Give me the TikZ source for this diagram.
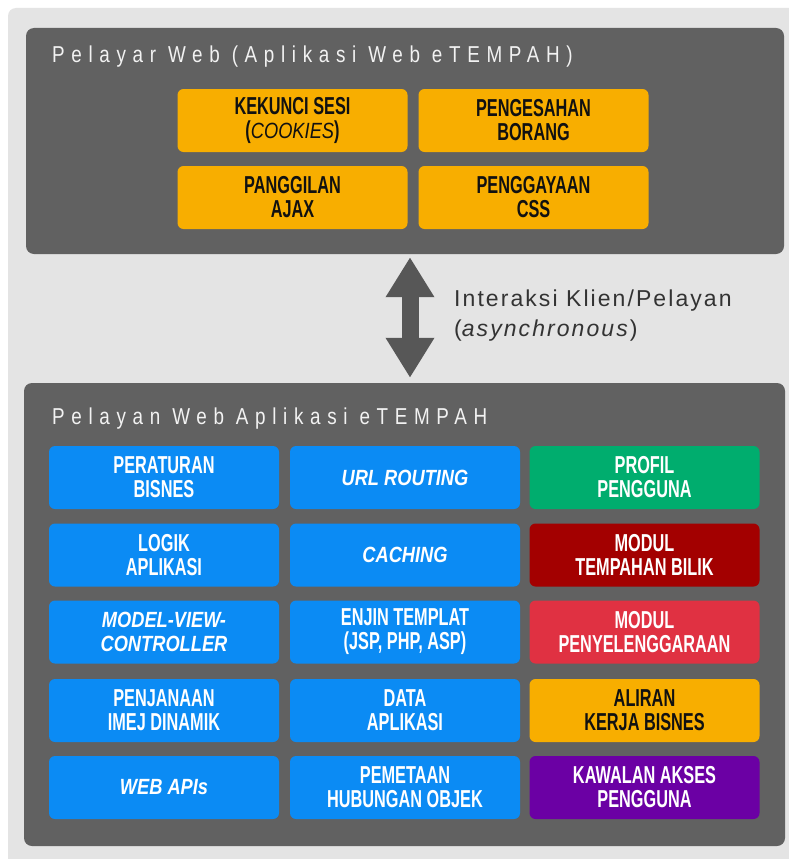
\documentclass[tikz,border=0pt]{standalone}
\usepackage{fontspec}
\setmainfont{Liberation Sans}
\newfontfamily\boxfont[FakeStretch=0.665]{Liberation Sans}
\newfontfamily\slantfont[FakeStretch=0.83]{Liberation Sans}
\newfontfamily\titlefont[FakeStretch=0.82,LetterSpace=29]{Liberation Sans}
\newfontfamily\notefont[LetterSpace=9]{Liberation Sans}
\usetikzlibrary{arrows.meta}

\definecolor{pagebg}{HTML}{E4E4E4}
\definecolor{panel}{HTML}{616161}
\definecolor{arrowgrey}{HTML}{575757}
\definecolor{notetext}{HTML}{333333}
\definecolor{titletext}{HTML}{F2F2F2}
\definecolor{blueb}{HTML}{0B8BF4}
\definecolor{greenb}{HTML}{00AD6E}
\definecolor{maroonb}{HTML}{A30000}
\definecolor{redb}{HTML}{E03142}
\definecolor{amberb}{HTML}{F8AE00}
\definecolor{purpleb}{HTML}{6B00A4}
\definecolor{darktext}{HTML}{111111}

\tikzset{
  panelbox/.style={fill=panel, rounded corners=8pt, inner sep=0pt},
  tile/.style={rounded corners=6pt, minimum width=230pt, minimum height=63pt,
    inner sep=0pt, align=center, text=white,
    font=\fontsize{24.5}{24}\boxfont\bfseries\selectfont},
  slanttile/.style={tile, font=\fontsize{22}{24}\slantfont\bfseries\itshape\selectfont},
  amber/.style={fill=amberb, text=darktext},
  paneltitle/.style={anchor=base west, inner sep=0pt, text=titletext,
    font=\fontsize{23}{23}\titlefont\selectfont},
  bigarrow/.style={draw=arrowgrey, line width=17pt,
    {Triangle[length=40pt,width=46pt]}-{Triangle[length=40pt,width=46pt]}},
}

\begin{document}
\begin{tikzpicture}[x=1pt,y=-1pt]
  \useasboundingbox (0,0) rectangle (789,859);
  \clip (0,0) rectangle (789,859);
  \fill[white] (0,0) rectangle (789,859);
  \fill[pagebg, rounded corners=8pt] (8,8) rectangle (810,880);

  % client-side panel
  \node[panelbox, minimum width=758pt, minimum height=226pt] (client) at (405,141) {};
  \node[paneltitle] (clienttitle) at (52,63) {Pelayar Web (Aplikasi Web eTEMPAH)};
  \node[tile, amber] (cookies) at (292.5,120.5) {KEKUNCI SESI\\({\fontsize{22}{22}\slantfont\mdseries\itshape COOKIES})};
  \node[tile, amber] (formval) at (533.5,120.5) {PENGESAHAN\\BORANG};
  \node[tile, amber] (ajax) at (292.5,197.5) {PANGGILAN\\AJAX};
  \node[tile, amber] (css) at (533.5,197.5) {PENGGAYAAN\\CSS};

  % server-side panel
  \node[panelbox, minimum width=761pt, minimum height=463pt] (server) at (404.5,614.5) {};
  \node[paneltitle] (servertitle) at (52,424) {Pelayan Web Aplikasi eTEMPAH};

  \node[tile, fill=blueb] (rules) at (164,477.5) {PERATURAN\\BISNES};
  \node[tile, fill=blueb] (logic) at (164,555) {LOGIK\\APLIKASI};
  \node[slanttile, fill=blueb] (mvc) at (164,632) {MODEL-VIEW-\\CONTROLLER};
  \node[tile, fill=blueb] (imgen) at (164,710.5) {PENJANAAN\\IMEJ DINAMIK};
  \node[slanttile, fill=blueb] (apis) at (164,787.5) {WEB APIs};

  \node[slanttile, fill=blueb] (routing) at (405,477.5) {URL ROUTING};
  \node[slanttile, fill=blueb] (caching) at (405,555) {CACHING};
  \node[tile, fill=blueb] (templ) at (405,632) {ENJIN TEMPLAT\\(JSP, PHP, ASP)};
  \node[tile, fill=blueb] (appdata) at (405,710.5) {DATA\\APLIKASI};
  \node[tile, fill=blueb] (orm) at (405,787.5) {PEMETAAN\\HUBUNGAN OBJEK};

  \node[tile, fill=greenb] (profile) at (644.5,477.5) {PROFIL\\PENGGUNA};
  \node[tile, fill=maroonb] (booking) at (644.5,555) {MODUL\\TEMPAHAN BILIK};
  \node[tile, fill=redb] (maint) at (644.5,632) {MODUL\\PENYELENGGARAAN};
  \node[tile, amber] (workflow) at (644.5,710.5) {ALIRAN\\KERJA BISNES};
  \node[tile, fill=purpleb] (access) at (644.5,787.5) {KAWALAN AKSES\\PENGGUNA};

  % client/server interaction
  \coordinate (axis) at (410,0);
  \draw[bigarrow] ([yshift=-3pt]client.south -| axis) -- ([yshift=5pt]server.north -| axis);
  \node[anchor=west, inner sep=0pt, align=left, text=notetext,
    font=\fontsize{23}{30}\notefont\selectfont] (note) at (454,316)
    {Interaksi Klien/Pelayan\\(\textit{asynchronous})};
\end{tikzpicture}
\end{document}
